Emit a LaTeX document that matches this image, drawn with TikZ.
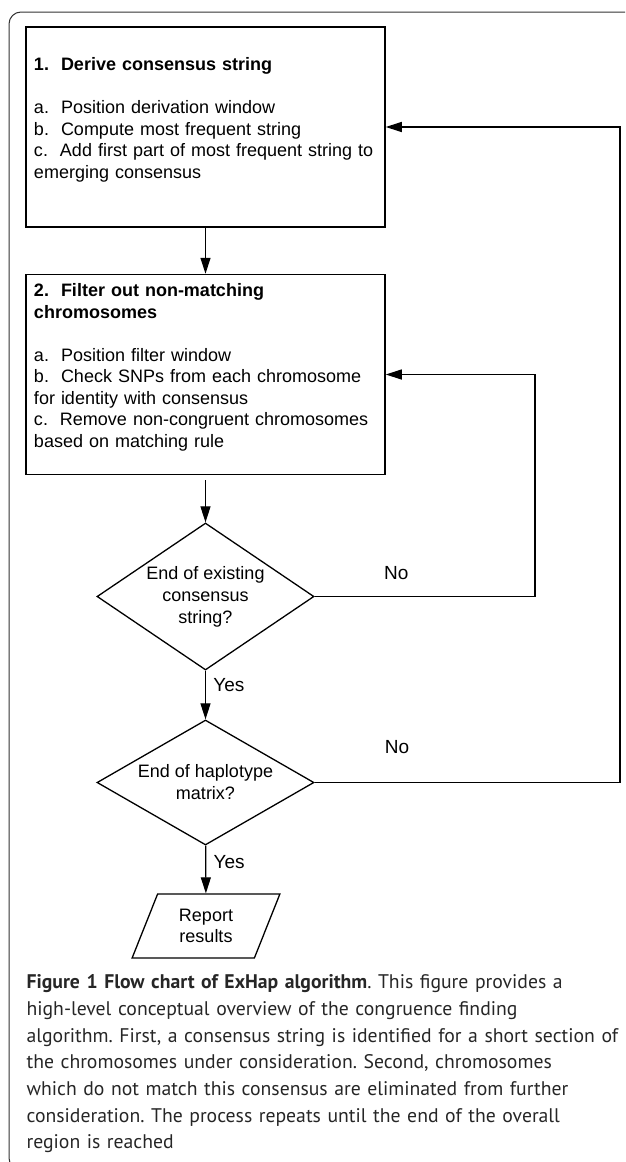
\documentclass[tikz,border=0pt]{standalone}
\usepackage{fontspec}
\setmainfont{Liberation Sans}
\newfontfamily\capfont{PT Sans}
\usetikzlibrary{shapes.geometric,arrows.meta}

\begin{document}
\begin{tikzpicture}[x=1pt,y=1pt,-,>={Triangle[length=16pt,width=10pt]},line width=1.2pt,
    box node/.style={rectangle,draw,line width=1.5pt,text width=343pt,align=left,inner xsep=8pt,inner ysep=7pt,text height=15pt,text depth=171pt,font=\fontsize{18}{21.5}\selectfont},
    decision node/.style={diamond,draw,line width=1.3pt,inner sep=0pt,minimum width=217pt,align=center,font=\fontsize{18}{22}\selectfont},
    io node/.style={trapezium,trapezium left angle=67,trapezium right angle=113,trapezium stretches=true,draw,line width=1.3pt,minimum width=148pt,minimum height=64pt,inner sep=0pt,align=center,font=\fontsize{18}{21}\selectfont},
    label node/.style={font=\fontsize{19}{22}\selectfont}]
    \useasboundingbox (0,0) rectangle (625,-1162);
    \clip (0,0) rectangle (625,-1162);
    % frame
    \draw[line width=1pt,black!80,rounded corners=12pt] (9,-12) rectangle (680,-1170);

    \node[box node] (1) at (205.5,-127) {~\\\textbf{1.\ \ Derive consensus string}\\~\\a.\ \ Position derivation window\\b.\ \ Compute most frequent string\\c.\ \ Add first part of most frequent string to\\emerging consensus};
    \node[box node] (2) at (205.5,-374.5) {\textbf{2.\ \ Filter out non-matching}\\\textbf{chromosomes}\\~\\a.\ \ Position filter window\\b.\ \ Check SNPs from each chromosome\\for identity with consensus\\c.\ \ Remove non-congruent chromosomes\\based on matching rule};
    \node[decision node,aspect=1.48,minimum height=147pt] (3) at (205.5,-596.5) {End of existing\\consensus\\string?};
    \node[decision node,aspect=1.74,minimum height=125pt] (4) at (205.5,-782.5) {End of haplotype\\matrix?};
    \node[io node] (5) at (206,-926) {Report\\results};

    \coordinate (r2) at (535,0);
    \coordinate (r1) at (620,0);

    \path[->,every node/.style={label node}]
        (1) edge (2)
        (2) edge[shorten <=5pt] (3)
        (3) edge node[right=4pt,pos=0.3] {Yes} (4)
        (4) edge node[right=4pt,pos=0.35] {Yes} (5);
    \draw[->] (3.east) -- node[label node,above=13pt,pos=0.37] {No} (3.east -| r2) |- (2.east);
    \draw[->] (4.east) -- node[label node,above=25pt,pos=0.27] {No} (4.east -| r1) |- (1.east);

    % caption
    \node[anchor=north west,inner sep=0pt,text width=610pt,align=left,text=black!85,font=\capfont\fontsize{19.7}{26.7}\selectfont\frenchspacing] (cap) at (26,-974)
        {\textbf{Figure 1 Flow chart of ExHap algorithm}. This figure provides a\\
        high-level conceptual overview of the congruence finding\\
        algorithm. First, a consensus string is identified for a short section of\\
        the chromosomes under consideration. Second, chromosomes\\
        which do not match this consensus are eliminated from further\\
        consideration. The process repeats until the end of the overall\\
        region is reached};
\end{tikzpicture}
\end{document}
